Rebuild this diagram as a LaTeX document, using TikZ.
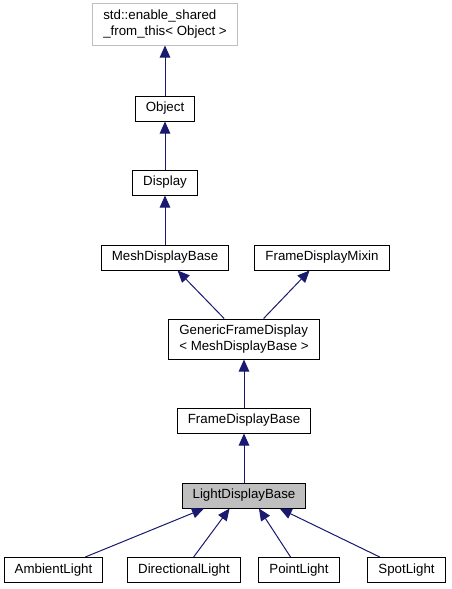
\documentclass[tikz,border=0pt]{standalone}
\usepackage{fontspec}
\setmainfont{Liberation Sans}
\usepackage{xcolor}
\usetikzlibrary{arrows.meta}
\definecolor{edgeblue}{HTML}{191970}
\definecolor{extgray}{HTML}{BFBFBF}

\begin{document}
\begin{tikzpicture}[x=1pt, y=-1pt, line width=1pt,
  font=\fontsize{13.3}{16}\selectfont,
  cls/.style={draw=black, fill=white, inner xsep=10.5pt, inner ysep=2pt,
    minimum height=25pt, align=left},
  extcls/.style={cls, draw=extgray},
  curcls/.style={cls, fill=extgray},
  inh/.style={draw=edgeblue, -{Triangle[length=12pt, width=10.5pt]}}
]
  \useasboundingbox (0,0) rectangle (451,589);

  % classes
  \node[extcls, minimum height=42pt] (esft) at (165,24)
    {std::enable\_shared\\\_from\_this< Object >};
  \node[cls] (obj) at (165,108.5) {Object};
  \node[cls] (disp) at (165,182.5) {Display};
  \node[cls] (mdb) at (165,257.5) {MeshDisplayBase};
  \node[cls] (fdm) at (322,257.5) {FrameDisplayMixin};
  \node[cls, minimum height=40pt] (gfd) at (244,339)
    {GenericFrameDisplay\\< MeshDisplayBase >};
  \node[cls] (fdb) at (244,420.5) {FrameDisplayBase};
  \node[curcls] (ldb) at (244,495.5) {LightDisplayBase};
  \node[cls] (amb) at (53.5,570) {AmbientLight};
  \node[cls] (dir) at (184,570) {DirectionalLight};
  \node[cls] (pnt) at (299,570) {PointLight};
  \node[cls] (spot) at (406.5,570) {SpotLight};

  % inheritance
  \draw[inh] (obj) -- (esft);
  \draw[inh] (disp) -- (obj);
  \draw[inh] (mdb) -- (disp);
  \draw[inh] (gfd) -- (mdb);
  \draw[inh] (gfd) -- (fdm);
  \draw[inh] (fdb) -- (gfd);
  \draw[inh] (ldb) -- (fdb);
  \draw[inh] (amb) -- (ldb.-162.6);
  \draw[inh] (dir) -- (ldb.-138.2);
  \draw[inh] (pnt) -- (ldb.-41.8);
  \draw[inh] (spot) -- (ldb.-20.2);
\end{tikzpicture}
\end{document}
